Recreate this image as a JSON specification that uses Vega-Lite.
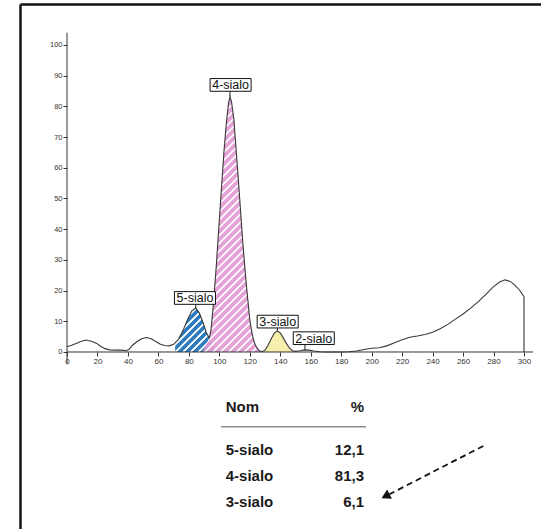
{
  "$schema": "https://vega.github.io/schema/vega-lite/v6.json",
  "width": 521,
  "height": 525,
  "autosize": {"type": "none"},
  "padding": {"left": 20, "top": 4, "right": 0, "bottom": 0},
  "background": "#ffffff",
  "config": {
    "view": {"stroke": null},
    "locale": {"number": {"decimal": ",", "thousands": " ", "grouping": [3], "currency": ["", " €"]}}
  },
  "datasets": {
    "trace": [
      {"x": 0, "y": 1.7}, {"x": 3, "y": 2.2}, {"x": 6, "y": 2.8}, {"x": 9, "y": 3.4}, {"x": 12.5, "y": 3.9},
      {"x": 16, "y": 3.5}, {"x": 19.5, "y": 2.8}, {"x": 22, "y": 1.9}, {"x": 25, "y": 1.1}, {"x": 28, "y": 0.7},
      {"x": 32, "y": 0.6}, {"x": 36, "y": 0.6}, {"x": 39, "y": 0.4}, {"x": 41, "y": 1.0}, {"x": 43, "y": 2.2},
      {"x": 46, "y": 3.4}, {"x": 49, "y": 4.3}, {"x": 52, "y": 4.7}, {"x": 55, "y": 4.4}, {"x": 58, "y": 3.5},
      {"x": 61, "y": 2.6}, {"x": 64, "y": 2.1}, {"x": 67, "y": 2.0}, {"x": 70, "y": 2.5}, {"x": 73, "y": 4.0},
      {"x": 76, "y": 6.8}, {"x": 79, "y": 10.4}, {"x": 82, "y": 13.4}, {"x": 84.5, "y": 14.3}, {"x": 87, "y": 12.6},
      {"x": 89.5, "y": 9.3}, {"x": 91.5, "y": 6.2}, {"x": 93.4, "y": 4.6}, {"x": 94.5, "y": 7}, {"x": 96, "y": 15},
      {"x": 98, "y": 28}, {"x": 100, "y": 43}, {"x": 101.5, "y": 54}, {"x": 103, "y": 65}, {"x": 104.5, "y": 74},
      {"x": 106, "y": 81}, {"x": 107, "y": 83.2}, {"x": 108, "y": 81.5}, {"x": 109.5, "y": 76}, {"x": 111, "y": 66},
      {"x": 112.5, "y": 56}, {"x": 114, "y": 45.5}, {"x": 115.5, "y": 35}, {"x": 117, "y": 26}, {"x": 118.5, "y": 18},
      {"x": 120, "y": 10.5}, {"x": 121.5, "y": 6}, {"x": 123, "y": 3}, {"x": 124.5, "y": 1.5}, {"x": 126, "y": 0.5},
      {"x": 128, "y": 0.1}, {"x": 130, "y": 0.6}, {"x": 132, "y": 2.2}, {"x": 134, "y": 4.2}, {"x": 136, "y": 6.1},
      {"x": 138, "y": 6.9}, {"x": 140, "y": 6.2}, {"x": 142, "y": 4.6}, {"x": 144, "y": 2.8}, {"x": 146, "y": 1.3},
      {"x": 148, "y": 0.4}, {"x": 150, "y": 0.2}, {"x": 153, "y": 0.4}, {"x": 156, "y": 0.7}, {"x": 159, "y": 0.6},
      {"x": 162, "y": 0.3}, {"x": 166, "y": 0.1}, {"x": 170, "y": 0}, {"x": 175, "y": 0}, {"x": 180, "y": 0},
      {"x": 185, "y": 0.1}, {"x": 190, "y": 0.3}, {"x": 195, "y": 0.8}, {"x": 200, "y": 1.2}, {"x": 205, "y": 1.4},
      {"x": 210, "y": 2.0}, {"x": 215, "y": 3.0}, {"x": 220, "y": 4.0}, {"x": 225, "y": 4.8}, {"x": 230, "y": 5.2},
      {"x": 235, "y": 5.7}, {"x": 240, "y": 6.4}, {"x": 245, "y": 7.6}, {"x": 250, "y": 9.0}, {"x": 255, "y": 10.7},
      {"x": 260, "y": 12.4}, {"x": 265, "y": 14.3}, {"x": 270, "y": 16.4}, {"x": 275, "y": 18.8}, {"x": 280, "y": 21.3},
      {"x": 284, "y": 22.8}, {"x": 287.5, "y": 23.5}, {"x": 291, "y": 23.0}, {"x": 294, "y": 21.8}, {"x": 297, "y": 20.2},
      {"x": 300, "y": 18.0}, {"x": 300, "y": 0}
    ],
    "pic5": [
      {"x": 71, "y": 3.0}, {"x": 73, "y": 4.0}, {"x": 76, "y": 6.8}, {"x": 79, "y": 10.4}, {"x": 82, "y": 13.4},
      {"x": 84.5, "y": 14.3}, {"x": 87, "y": 12.6}, {"x": 89.5, "y": 9.3}, {"x": 91.5, "y": 6.2}, {"x": 93.4, "y": 4.6},
      {"x": 95.5, "y": 2.0}, {"x": 97.5, "y": 0}
    ],
    "pic4": [
      {"x": 89, "y": 0}, {"x": 91.5, "y": 2.6}, {"x": 93.4, "y": 4.6}, {"x": 94.5, "y": 7}, {"x": 96, "y": 15},
      {"x": 98, "y": 28}, {"x": 100, "y": 43}, {"x": 101.5, "y": 54}, {"x": 103, "y": 65}, {"x": 104.5, "y": 74},
      {"x": 106, "y": 81}, {"x": 107, "y": 83.2}, {"x": 108, "y": 81.5}, {"x": 109.5, "y": 76}, {"x": 111, "y": 66},
      {"x": 112.5, "y": 56}, {"x": 114, "y": 45.5}, {"x": 115.5, "y": 35}, {"x": 117, "y": 26}, {"x": 118.5, "y": 18},
      {"x": 120, "y": 10.5}, {"x": 121.5, "y": 6}, {"x": 123, "y": 3}, {"x": 124.5, "y": 1.5}, {"x": 126, "y": 0.5},
      {"x": 128, "y": 0.1}
    ],
    "pic3": [
      {"x": 128.5, "y": 0}, {"x": 130, "y": 0.6}, {"x": 132, "y": 2.2}, {"x": 134, "y": 4.2}, {"x": 136, "y": 6.1},
      {"x": 138, "y": 6.9}, {"x": 140, "y": 6.2}, {"x": 142, "y": 4.6}, {"x": 144, "y": 2.8}, {"x": 146, "y": 1.3},
      {"x": 148, "y": 0.4}, {"x": 149, "y": 0}
    ],
    "etiquettes": [
      {"nom": "5-sialo", "xpic": 84.5, "ypic": 14.3, "xlab": 84.0, "ylab": 17.6},
      {"nom": "4-sialo", "xpic": 107.0, "ypic": 83.2, "xlab": 107.4, "ylab": 87.0},
      {"nom": "3-sialo", "xpic": 138.1, "ypic": 6.9, "xlab": 138.3, "ylab": 9.9},
      {"nom": "2-sialo", "xpic": 156.2, "ypic": 0.7, "xlab": 162.0, "ylab": 4.5}
    ],
    "tableau": [
      {"Nom": "5-sialo", "pct": 12.1, "rang": 1},
      {"Nom": "4-sialo", "pct": 81.3, "rang": 2},
      {"Nom": "3-sialo", "pct": 6.1, "rang": 3}
    ]
  },
  "resolve": {"scale": {"y": "independent"}, "axis": {"x": "independent", "y": "independent"}},
  "layer": [
    {
      "resolve": {"axis": {"x": "independent", "y": "independent"}},
      "layer": [
        {
          "data": {"name": "pic5"},
          "mark": {
            "type": "area",
            "fill": {
              "gradient": "linear", "x1": 0, "y1": 0, "x2": 0.957, "y2": 1.04,
              "stops": [
                {"offset": 0, "color": "#2d7cc1"}, {"offset": 0.05, "color": "#2d7cc1"}, {"offset": 0.06, "color": "#ffffff"}, {"offset": 0.08, "color": "#ffffff"},
                {"offset": 0.0909, "color": "#2d7cc1"}, {"offset": 0.1409, "color": "#2d7cc1"}, {"offset": 0.1509, "color": "#ffffff"}, {"offset": 0.1709, "color": "#ffffff"},
                {"offset": 0.1818, "color": "#2d7cc1"}, {"offset": 0.2318, "color": "#2d7cc1"}, {"offset": 0.2418, "color": "#ffffff"}, {"offset": 0.2618, "color": "#ffffff"},
                {"offset": 0.2727, "color": "#2d7cc1"}, {"offset": 0.3227, "color": "#2d7cc1"}, {"offset": 0.3327, "color": "#ffffff"}, {"offset": 0.3527, "color": "#ffffff"},
                {"offset": 0.3636, "color": "#2d7cc1"}, {"offset": 0.4136, "color": "#2d7cc1"}, {"offset": 0.4236, "color": "#ffffff"}, {"offset": 0.4436, "color": "#ffffff"},
                {"offset": 0.4545, "color": "#2d7cc1"}, {"offset": 0.5045, "color": "#2d7cc1"}, {"offset": 0.5145, "color": "#ffffff"}, {"offset": 0.5345, "color": "#ffffff"},
                {"offset": 0.5455, "color": "#2d7cc1"}, {"offset": 0.5955, "color": "#2d7cc1"}, {"offset": 0.6055, "color": "#ffffff"}, {"offset": 0.6255, "color": "#ffffff"},
                {"offset": 0.6364, "color": "#2d7cc1"}, {"offset": 0.6864, "color": "#2d7cc1"}, {"offset": 0.6964, "color": "#ffffff"}, {"offset": 0.7164, "color": "#ffffff"},
                {"offset": 0.7273, "color": "#2d7cc1"}, {"offset": 0.7773, "color": "#2d7cc1"}, {"offset": 0.7873, "color": "#ffffff"}, {"offset": 0.8073, "color": "#ffffff"},
                {"offset": 0.8182, "color": "#2d7cc1"}, {"offset": 0.8682, "color": "#2d7cc1"}, {"offset": 0.8782, "color": "#ffffff"}, {"offset": 0.8982, "color": "#ffffff"},
                {"offset": 0.9091, "color": "#2d7cc1"}, {"offset": 0.9591, "color": "#2d7cc1"}, {"offset": 0.9691, "color": "#ffffff"}, {"offset": 0.9891, "color": "#ffffff"},
                {"offset": 1, "color": "#2d7cc1"}
              ]
            }
          },
          "encoding": {
            "x": {"field": "x", "type": "quantitative", "scale": {"domain": [-30.854, 311.166], "nice": false, "zero": false},
                  "axis": {"orient": "top", "domain": true, "domainColor": "#111111", "domainWidth": 2.5, "ticks": false, "labels": false, "grid": false, "title": null}},
            "y": {"field": "y", "type": "quantitative", "scale": {"domain": [-57.655, 113.355], "nice": false, "zero": false},
                  "axis": {"orient": "left", "domain": true, "domainColor": "#111111", "domainWidth": 2.5, "ticks": false, "labels": false, "grid": false, "title": null}},
            "y2": {"datum": 0}
          }
        },
        {
          "data": {"name": "pic4"},
          "mark": {
            "type": "area",
            "fillOpacity": 0.92,
            "fill": {
              "gradient": "linear", "x1": 0, "y1": 0, "x2": 0.272, "y2": 1.169,
              "stops": [
                {"offset": 0, "color": "#e29bd3"}, {"offset": 0.014, "color": "#e29bd3"}, {"offset": 0.017, "color": "#ffffff"}, {"offset": 0.021, "color": "#ffffff"},
                {"offset": 0.025, "color": "#e29bd3"}, {"offset": 0.039, "color": "#e29bd3"}, {"offset": 0.042, "color": "#ffffff"}, {"offset": 0.046, "color": "#ffffff"},
                {"offset": 0.05, "color": "#e29bd3"}, {"offset": 0.064, "color": "#e29bd3"}, {"offset": 0.067, "color": "#ffffff"}, {"offset": 0.071, "color": "#ffffff"},
                {"offset": 0.075, "color": "#e29bd3"}, {"offset": 0.089, "color": "#e29bd3"}, {"offset": 0.092, "color": "#ffffff"}, {"offset": 0.096, "color": "#ffffff"},
                {"offset": 0.1, "color": "#e29bd3"}, {"offset": 0.114, "color": "#e29bd3"}, {"offset": 0.117, "color": "#ffffff"}, {"offset": 0.121, "color": "#ffffff"},
                {"offset": 0.125, "color": "#e29bd3"}, {"offset": 0.139, "color": "#e29bd3"}, {"offset": 0.142, "color": "#ffffff"}, {"offset": 0.146, "color": "#ffffff"},
                {"offset": 0.15, "color": "#e29bd3"}, {"offset": 0.164, "color": "#e29bd3"}, {"offset": 0.167, "color": "#ffffff"}, {"offset": 0.171, "color": "#ffffff"},
                {"offset": 0.175, "color": "#e29bd3"}, {"offset": 0.189, "color": "#e29bd3"}, {"offset": 0.192, "color": "#ffffff"}, {"offset": 0.196, "color": "#ffffff"},
                {"offset": 0.2, "color": "#e29bd3"}, {"offset": 0.214, "color": "#e29bd3"}, {"offset": 0.217, "color": "#ffffff"}, {"offset": 0.221, "color": "#ffffff"},
                {"offset": 0.225, "color": "#e29bd3"}, {"offset": 0.239, "color": "#e29bd3"}, {"offset": 0.242, "color": "#ffffff"}, {"offset": 0.246, "color": "#ffffff"},
                {"offset": 0.25, "color": "#e29bd3"}, {"offset": 0.264, "color": "#e29bd3"}, {"offset": 0.267, "color": "#ffffff"}, {"offset": 0.271, "color": "#ffffff"},
                {"offset": 0.275, "color": "#e29bd3"}, {"offset": 0.289, "color": "#e29bd3"}, {"offset": 0.292, "color": "#ffffff"}, {"offset": 0.296, "color": "#ffffff"},
                {"offset": 0.3, "color": "#e29bd3"}, {"offset": 0.314, "color": "#e29bd3"}, {"offset": 0.317, "color": "#ffffff"}, {"offset": 0.321, "color": "#ffffff"},
                {"offset": 0.325, "color": "#e29bd3"}, {"offset": 0.339, "color": "#e29bd3"}, {"offset": 0.342, "color": "#ffffff"}, {"offset": 0.346, "color": "#ffffff"},
                {"offset": 0.35, "color": "#e29bd3"}, {"offset": 0.364, "color": "#e29bd3"}, {"offset": 0.367, "color": "#ffffff"}, {"offset": 0.371, "color": "#ffffff"},
                {"offset": 0.375, "color": "#e29bd3"}, {"offset": 0.389, "color": "#e29bd3"}, {"offset": 0.392, "color": "#ffffff"}, {"offset": 0.396, "color": "#ffffff"},
                {"offset": 0.4, "color": "#e29bd3"}, {"offset": 0.414, "color": "#e29bd3"}, {"offset": 0.417, "color": "#ffffff"}, {"offset": 0.421, "color": "#ffffff"},
                {"offset": 0.425, "color": "#e29bd3"}, {"offset": 0.439, "color": "#e29bd3"}, {"offset": 0.442, "color": "#ffffff"}, {"offset": 0.446, "color": "#ffffff"},
                {"offset": 0.45, "color": "#e29bd3"}, {"offset": 0.464, "color": "#e29bd3"}, {"offset": 0.467, "color": "#ffffff"}, {"offset": 0.471, "color": "#ffffff"},
                {"offset": 0.475, "color": "#e29bd3"}, {"offset": 0.489, "color": "#e29bd3"}, {"offset": 0.492, "color": "#ffffff"}, {"offset": 0.496, "color": "#ffffff"},
                {"offset": 0.5, "color": "#e29bd3"}, {"offset": 0.514, "color": "#e29bd3"}, {"offset": 0.517, "color": "#ffffff"}, {"offset": 0.521, "color": "#ffffff"},
                {"offset": 0.525, "color": "#e29bd3"}, {"offset": 0.539, "color": "#e29bd3"}, {"offset": 0.542, "color": "#ffffff"}, {"offset": 0.546, "color": "#ffffff"},
                {"offset": 0.55, "color": "#e29bd3"}, {"offset": 0.564, "color": "#e29bd3"}, {"offset": 0.567, "color": "#ffffff"}, {"offset": 0.571, "color": "#ffffff"},
                {"offset": 0.575, "color": "#e29bd3"}, {"offset": 0.589, "color": "#e29bd3"}, {"offset": 0.592, "color": "#ffffff"}, {"offset": 0.596, "color": "#ffffff"},
                {"offset": 0.6, "color": "#e29bd3"}, {"offset": 0.614, "color": "#e29bd3"}, {"offset": 0.617, "color": "#ffffff"}, {"offset": 0.621, "color": "#ffffff"},
                {"offset": 0.625, "color": "#e29bd3"}, {"offset": 0.639, "color": "#e29bd3"}, {"offset": 0.642, "color": "#ffffff"}, {"offset": 0.646, "color": "#ffffff"},
                {"offset": 0.65, "color": "#e29bd3"}, {"offset": 0.664, "color": "#e29bd3"}, {"offset": 0.667, "color": "#ffffff"}, {"offset": 0.671, "color": "#ffffff"},
                {"offset": 0.675, "color": "#e29bd3"}, {"offset": 0.689, "color": "#e29bd3"}, {"offset": 0.692, "color": "#ffffff"}, {"offset": 0.696, "color": "#ffffff"},
                {"offset": 0.7, "color": "#e29bd3"}, {"offset": 0.714, "color": "#e29bd3"}, {"offset": 0.717, "color": "#ffffff"}, {"offset": 0.721, "color": "#ffffff"},
                {"offset": 0.725, "color": "#e29bd3"}, {"offset": 0.739, "color": "#e29bd3"}, {"offset": 0.742, "color": "#ffffff"}, {"offset": 0.746, "color": "#ffffff"},
                {"offset": 0.75, "color": "#e29bd3"}, {"offset": 0.764, "color": "#e29bd3"}, {"offset": 0.767, "color": "#ffffff"}, {"offset": 0.771, "color": "#ffffff"},
                {"offset": 0.775, "color": "#e29bd3"}, {"offset": 0.789, "color": "#e29bd3"}, {"offset": 0.792, "color": "#ffffff"}, {"offset": 0.796, "color": "#ffffff"},
                {"offset": 0.8, "color": "#e29bd3"}, {"offset": 0.814, "color": "#e29bd3"}, {"offset": 0.817, "color": "#ffffff"}, {"offset": 0.821, "color": "#ffffff"},
                {"offset": 0.825, "color": "#e29bd3"}, {"offset": 0.839, "color": "#e29bd3"}, {"offset": 0.842, "color": "#ffffff"}, {"offset": 0.846, "color": "#ffffff"},
                {"offset": 0.85, "color": "#e29bd3"}, {"offset": 0.864, "color": "#e29bd3"}, {"offset": 0.867, "color": "#ffffff"}, {"offset": 0.871, "color": "#ffffff"},
                {"offset": 0.875, "color": "#e29bd3"}, {"offset": 0.889, "color": "#e29bd3"}, {"offset": 0.892, "color": "#ffffff"}, {"offset": 0.896, "color": "#ffffff"},
                {"offset": 0.9, "color": "#e29bd3"}, {"offset": 0.914, "color": "#e29bd3"}, {"offset": 0.917, "color": "#ffffff"}, {"offset": 0.921, "color": "#ffffff"},
                {"offset": 0.925, "color": "#e29bd3"}, {"offset": 0.939, "color": "#e29bd3"}, {"offset": 0.942, "color": "#ffffff"}, {"offset": 0.946, "color": "#ffffff"},
                {"offset": 0.95, "color": "#e29bd3"}, {"offset": 0.964, "color": "#e29bd3"}, {"offset": 0.967, "color": "#ffffff"}, {"offset": 0.971, "color": "#ffffff"},
                {"offset": 0.975, "color": "#e29bd3"}, {"offset": 0.989, "color": "#e29bd3"}, {"offset": 0.992, "color": "#ffffff"}, {"offset": 0.996, "color": "#ffffff"},
                {"offset": 1, "color": "#e29bd3"}
              ]
            }
          },
          "encoding": {
            "x": {"field": "x", "type": "quantitative", "scale": {"domain": [-30.854, 311.166], "nice": false, "zero": false}, "axis": null},
            "y": {"field": "y", "type": "quantitative", "scale": {"domain": [-57.655, 113.355], "nice": false, "zero": false}, "axis": null},
            "y2": {"datum": 0}
          }
        },
        {
          "data": {"name": "pic3"},
          "mark": {"type": "area", "fill": "#f6efae"},
          "encoding": {
            "x": {"field": "x", "type": "quantitative", "scale": {"domain": [-30.854, 311.166], "nice": false, "zero": false}, "axis": null},
            "y": {"field": "y", "type": "quantitative", "scale": {"domain": [-57.655, 113.355], "nice": false, "zero": false}, "axis": null},
            "y2": {"datum": 0}
          }
        },
        {
          "data": {"name": "trace"},
          "mark": {"type": "line", "color": "#383838", "strokeWidth": 1.1},
          "encoding": {
            "x": {"field": "x", "type": "quantitative", "scale": {"domain": [-30.854, 311.166], "nice": false, "zero": false},
                  "axis": {"orient": "bottom", "offset": -177, "values": [0, 20, 40, 60, 80, 100, 120, 140, 160, 180, 200, 220, 240, 260, 280, 300],
                           "domain": false, "grid": false, "title": null, "tickColor": "#333333", "tickSize": 4, "tickWidth": 1,
                           "labelFont": "Liberation Sans", "labelFontSize": 8, "labelColor": "#333333", "labelPadding": 1}},
            "y": {"field": "y", "type": "quantitative", "scale": {"domain": [-57.655, 113.355], "nice": false, "zero": false},
                  "axis": {"orient": "left", "offset": -47, "values": [0, 10, 20, 30, 40, 50, 60, 70, 80, 90, 100],
                           "domain": false, "grid": false, "title": null, "tickColor": "#333333", "tickSize": 4, "tickWidth": 1,
                           "labelFont": "Liberation Sans", "labelFontSize": 7.5, "labelColor": "#333333", "labelPadding": 1}},
            "order": {"value": null}
          }
        },
        {
          "data": {"values": [{}]},
          "mark": {"type": "rule", "color": "#333333", "strokeWidth": 1},
          "encoding": {
            "x": {"datum": 0, "type": "quantitative", "scale": {"domain": [-30.854, 311.166], "nice": false, "zero": false}, "axis": null},
            "x2": {"datum": 306},
            "y": {"datum": 0, "type": "quantitative", "scale": {"domain": [-57.655, 113.355], "nice": false, "zero": false}, "axis": null}
          }
        },
        {
          "data": {"values": [{}]},
          "mark": {"type": "rule", "color": "#333333", "strokeWidth": 1},
          "encoding": {
            "x": {"datum": 0, "type": "quantitative", "scale": {"domain": [-30.854, 311.166], "nice": false, "zero": false}, "axis": null},
            "y": {"datum": -4, "type": "quantitative", "scale": {"domain": [-57.655, 113.355], "nice": false, "zero": false}, "axis": null},
            "y2": {"datum": 104}
          }
        },
        {
          "data": {"name": "etiquettes"},
          "mark": {"type": "rule", "color": "#222222", "strokeWidth": 1},
          "encoding": {
            "x": {"field": "xpic", "type": "quantitative", "scale": {"domain": [-30.854, 311.166], "nice": false, "zero": false}, "axis": null},
            "y": {"field": "ypic", "type": "quantitative", "scale": {"domain": [-57.655, 113.355], "nice": false, "zero": false}, "axis": null},
            "y2": {"field": "ylab"}
          }
        },
        {
          "data": {"name": "etiquettes"},
          "mark": {"type": "point", "shape": "M-1,-0.31H1V0.31H-1Z", "size": 1681, "filled": true, "fill": "#ffffff", "stroke": "#111111", "strokeWidth": 1, "opacity": 1, "fillOpacity": 1},
          "encoding": {
            "x": {"field": "xlab", "type": "quantitative", "scale": {"domain": [-30.854, 311.166], "nice": false, "zero": false}, "axis": null},
            "y": {"field": "ylab", "type": "quantitative", "scale": {"domain": [-57.655, 113.355], "nice": false, "zero": false}, "axis": null}
          }
        },
        {
          "data": {"name": "etiquettes"},
          "mark": {"type": "text", "font": "Liberation Sans", "fontSize": 12.5, "color": "#111111", "align": "center", "baseline": "middle", "dy": 0.5},
          "encoding": {
            "x": {"field": "xlab", "type": "quantitative", "scale": {"domain": [-30.854, 311.166], "nice": false, "zero": false}, "axis": null},
            "y": {"field": "ylab", "type": "quantitative", "scale": {"domain": [-57.655, 113.355], "nice": false, "zero": false}, "axis": null},
            "text": {"field": "nom"}
          }
        },
        {
          "data": {"values": [{}]},
          "mark": {"type": "rule", "color": "#111111", "strokeWidth": 1.8, "strokeDash": [6, 4]},
          "encoding": {
            "x": {"datum": 273.3, "type": "quantitative", "scale": {"domain": [-30.854, 311.166], "nice": false, "zero": false}, "axis": null},
            "x2": {"datum": 211.6},
            "y": {"datum": -30.6, "type": "quantitative", "scale": {"domain": [-57.655, 113.355], "nice": false, "zero": false}, "axis": null},
            "y2": {"datum": -46.35}
          }
        },
        {
          "data": {"values": [{}]},
          "mark": {"type": "point", "shape": "triangle-up", "angle": 242.7, "size": 110, "filled": true, "color": "#111111", "opacity": 1},
          "encoding": {
            "x": {"datum": 209.1, "type": "quantitative", "scale": {"domain": [-30.854, 311.166], "nice": false, "zero": false}, "axis": null},
            "y": {"datum": -47.0, "type": "quantitative", "scale": {"domain": [-57.655, 113.355], "nice": false, "zero": false}, "axis": null}
          }
        }
      ]
    },
    {
      "layer": [
        {
          "data": {"values": [{}]},
          "mark": {"type": "text", "text": "Nom", "font": "Liberation Sans", "fontWeight": "bold", "fontSize": 15, "color": "#1a1a1a", "align": "left", "baseline": "alphabetic"},
          "encoding": {
            "x": {"datum": 104.2, "type": "quantitative", "scale": {"domain": [-30.854, 311.166], "nice": false, "zero": false}, "axis": null},
            "y": {"datum": -0.675, "type": "quantitative", "scale": {"domain": [-16.447, 3.863], "reverse": true, "nice": false, "zero": false}, "axis": null}
          }
        },
        {
          "data": {"values": [{}]},
          "mark": {"type": "text", "text": "%", "font": "Liberation Sans", "fontWeight": "bold", "fontSize": 15, "color": "#1a1a1a", "align": "right", "baseline": "alphabetic"},
          "encoding": {
            "x": {"datum": 195.0, "type": "quantitative", "scale": {"domain": [-30.854, 311.166], "nice": false, "zero": false}, "axis": null},
            "y": {"datum": -0.675, "type": "quantitative", "scale": {"domain": [-16.447, 3.863], "reverse": true, "nice": false, "zero": false}, "axis": null}
          }
        },
        {
          "data": {"values": [{}]},
          "mark": {"type": "rule", "color": "#8c8c8c", "strokeWidth": 1.4},
          "encoding": {
            "x": {"datum": 101.1, "type": "quantitative", "scale": {"domain": [-30.854, 311.166], "nice": false, "zero": false}, "axis": null},
            "x2": {"datum": 196.3},
            "y": {"datum": -0.095, "type": "quantitative", "scale": {"domain": [-16.447, 3.863], "reverse": true, "nice": false, "zero": false}, "axis": null}
          }
        },
        {
          "data": {"name": "tableau"},
          "mark": {"type": "text", "font": "Liberation Sans", "fontWeight": "bold", "fontSize": 15, "color": "#1a1a1a", "align": "left", "baseline": "alphabetic"},
          "encoding": {
            "x": {"datum": 104.2, "type": "quantitative", "scale": {"domain": [-30.854, 311.166], "nice": false, "zero": false}, "axis": null},
            "y": {"field": "rang", "type": "quantitative", "scale": {"domain": [-16.447, 3.863], "reverse": true, "nice": false, "zero": false}, "axis": null},
            "text": {"field": "Nom"}
          }
        },
        {
          "data": {"name": "tableau"},
          "mark": {"type": "text", "font": "Liberation Sans", "fontWeight": "bold", "fontSize": 15, "color": "#1a1a1a", "align": "right", "baseline": "alphabetic"},
          "encoding": {
            "x": {"datum": 195.0, "type": "quantitative", "scale": {"domain": [-30.854, 311.166], "nice": false, "zero": false}, "axis": null},
            "y": {"field": "rang", "type": "quantitative", "scale": {"domain": [-16.447, 3.863], "reverse": true, "nice": false, "zero": false}, "axis": null},
            "text": {"field": "pct", "format": ".1f"}
          }
        }
      ]
    }
  ]
}
